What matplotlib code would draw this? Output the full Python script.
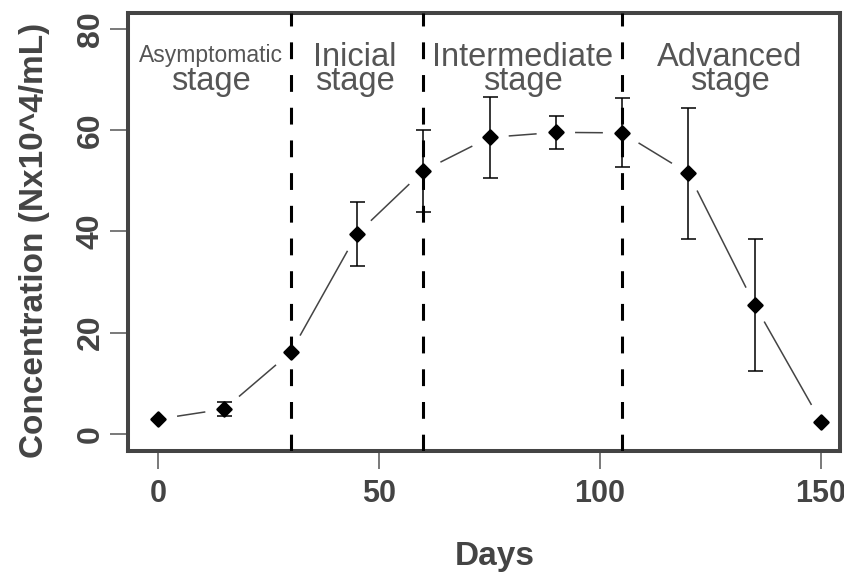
import matplotlib.pyplot as plt
from matplotlib.markers import MarkerStyle
import numpy as np

plt.rcParams['font.family'] = ['Liberation Sans', 'DejaVu Sans']

# data
days = [0, 15, 30, 45, 60, 75, 90, 105, 120, 135, 150]
conc = [2.9, 4.9, 16.1, 39.5, 52.0, 58.6, 59.6, 59.5, 51.5, 25.5, 2.4]
sd = [0, 1.4, 0, 6.4, 8.1, 8.0, 3.2, 6.8, 13.0, 13.1, 0]

stage_bounds = [30, 60, 105]
stage_top = ['Asymptomatic', 'Inicial', 'Intermediate', 'Advanced']
stage_x = [11.9, 44.5, 82.5, 129.4]

fig = plt.figure(figsize=(8.45, 5.72), dpi=100)
ax = fig.add_axes([128 / 845, 1 - 451 / 572, 712 / 845, 438 / 572])
ax.set_xlim(-6.8, 154.3)
ax.set_ylim(-3.4, 83.2)

# connecting line with gaps round the points (like R type="b")
pts = ax.transData.transform(np.column_stack([days, conc]))
inv = ax.transData.inverted()
gap = 20
for p, q in zip(pts[:-1], pts[1:]):
    d = q - p
    u = d / np.hypot(*d)
    a, b = inv.transform([p + u * gap, q - u * gap])
    ax.plot([a[0], b[0]], [a[1], b[1]], color='#444444', lw=1.1, zorder=2)

for xb in stage_bounds:
    ax.axvline(xb, color='black', lw=2.2, ls=(0, (5.5, 5.2)), zorder=3)

ax.errorbar(days, conc, yerr=sd, fmt='none', ecolor='black', elinewidth=1.1,
            capsize=5.4, capthick=1.1, zorder=4)
ax.plot(days, conc, ls='none', marker=MarkerStyle('D', joinstyle='round'),
        ms=7.2, color='black', mec='black', mew=1.8, zorder=5)

# stage labels
for name, x in zip(stage_top, stage_x):
    if name == 'Asymptomatic':
        ax.text(x, 73.6, name, ha='center', va='baseline', fontsize=16.5,
                color='#555555')
        ax.text(x, 68.0, 'stage', ha='center', va='baseline', fontsize=23.5,
                color='#555555')
    else:
        ax.text(x, 68.0, name + '\nstage', ha='center', va='baseline',
                multialignment='center', linespacing=0.69, fontsize=23.5,
                color='#555555')

ax.set_xticks([0, 50, 100, 150])
ax.set_yticks([0, 20, 40, 60, 80])
ax.tick_params(direction='out', length=13, width=1.1, color='#555555',
               labelsize=22, labelcolor='#444444')
ax.tick_params(axis='x', pad=7.5)
ax.tick_params(axis='y', pad=3, labelsize=23)
for lab in ax.get_xticklabels():
    lab.set_fontweight('bold')
for lab in ax.get_yticklabels():
    lab.set_fontweight('bold')
    lab.set_rotation(90)
    lab.set_va('center')

for s in ax.spines.values():
    s.set_linewidth(2.9)
    s.set_color('#444444')

ax.set_xlabel('Days', fontsize=24, fontweight='bold', color='#444444',
              va='baseline')
ax.xaxis.set_label_coords((495 - 128) / 712, (451 - 565) / 438)
ax.set_ylabel('Concentration (Nx10^4/mL)', fontsize=24, fontweight='bold',
              color='#444444', va='baseline')
ax.yaxis.set_label_coords((43 - 128) / 712, (451 - 240) / 438)

fig.savefig('out.png', dpi=100)
